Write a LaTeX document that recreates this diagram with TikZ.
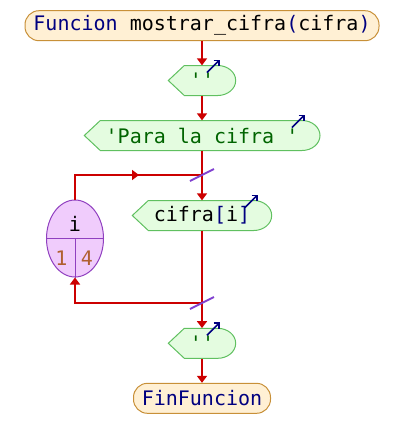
\documentclass[tikz,border=0pt]{standalone}
\usepackage{fontspec}
\setmonofont{DejaVu Sans Mono}
\usepackage{tikz}
\usetikzlibrary{arrows.meta,shapes.geometric}

\definecolor{rojoflujo}{HTML}{CC0000}
\definecolor{fondoterm}{HTML}{FFF0D4}
\definecolor{bordeterm}{HTML}{C89038}
\definecolor{fondosal}{HTML}{E4FCE0}
\definecolor{bordesal}{HTML}{60C060}
\definecolor{fondovar}{HTML}{F0CCFC}
\definecolor{bordevar}{HTML}{9040C0}
\definecolor{azultexto}{HTML}{000080}
\definecolor{verdetexto}{HTML}{006400}
\definecolor{cafetexto}{HTML}{B06030}
\definecolor{moradocorte}{HTML}{8040D0}

\begin{document}
\begin{tikzpicture}[x=1pt,y=1pt,
  letra/.style={font=\ttfamily\fontsize{20}{24}\selectfont},
  flujo/.style={line width=2pt,color=rojoflujo},
  flecha/.style={flujo,-{Triangle[length=7pt,width=10pt]}},
  terminal/.style={letra,draw=bordeterm,fill=fondoterm,line width=1pt,rounded corners=14pt,minimum height=30,inner sep=0pt,text=azultexto},
  salbox/.style={draw=bordesal,fill=fondosal,line width=1pt},
  saltexto/.style={letra,minimum height=30,inner sep=0pt},
  glifo/.style={line width=1.6pt,color=azultexto,-{Straight Barb[length=4pt,width=8pt]}},
  varbox/.style={ellipse,draw=bordevar,fill=fondovar,line width=1pt,minimum width=57,minimum height=77,inner sep=0pt},
  corte/.style={line width=2pt,color=moradocorte}]

\useasboundingbox (0,0) rectangle (404,-448);

%Output shape: name, left x, right x, centre y, glyph x, text
\def\salida#1#2#3#4#5#6{%
  \filldraw[salbox] (#2,-#4) -- ++(16,15) -- (#3-18,-#4+15)
     arc[start angle=90,end angle=-90,x radius=18,y radius=15] -- (#2+16,-#4-15) -- cycle;
  \node[saltexto,minimum width=#3-#2] (#1) at (202,-#4) {#6};
  \draw[glifo] (#5,-#4+8) -- ++(13,13);
}

% Start and end
\node[terminal,minimum width=354] (inicio) at (202,-25.7)
  {Funcion \textcolor{black}{mostrar\_cifra}(\textcolor{black}{cifra})};
\node[terminal,minimum width=137] (fin) at (202,-398.3) {FinFuncion};

% Outputs
\salida{s1}{168.3}{235.7}{80.5}{207}{\textcolor{verdetexto}{''}}
\salida{s2}{84.3}{320}{135.5}{292}{\textcolor{verdetexto}{'Para la cifra '}}
\salida{s3}{132.3}{271.7}{215.5}{245}{cifra\textcolor{azultexto}{[}i\textcolor{azultexto}{]}}
\salida{s4}{168.3}{235.7}{343.3}{207}{\textcolor{verdetexto}{''}}

% Loop variable
\node[varbox] (var) at (75,-238.5) {};
\draw[bordevar,line width=1pt] (var.west) -- (var.east);
\draw[bordevar,line width=1pt] (var.center) -- (var.south);
\node[letra] (vnom) at (75,-224) {i};
\node[letra,text=cafetexto] (vini) at (61.5,-258) {1};
\node[letra,text=cafetexto] (vfin) at (87,-258) {4};

\coordinate (lazoA) at (202,-175);
\coordinate (lazoB) at (202,-303);

% Main flow
\draw[flecha] (inicio) -- (s1);
\draw[flecha] (s1) -- (s2);
\draw[flecha] (s2) -- (s3);
\draw[flecha] (s3) -- (s4);
\draw[flecha] (s4) -- (fin);

% Loop lines
\draw[flujo] (var.north) |- (lazoA);
\draw[flecha] (var.north |- lazoA) -- ++(64,0);
\draw[flecha] (lazoB) -| (var.south);

\draw[corte] ([shift={(-12,-6)}]lazoA) -- ([shift={(12,6)}]lazoA);
\draw[corte] ([shift={(-12,-6)}]lazoB) -- ([shift={(12,6)}]lazoB);

\end{tikzpicture}
\end{document}
